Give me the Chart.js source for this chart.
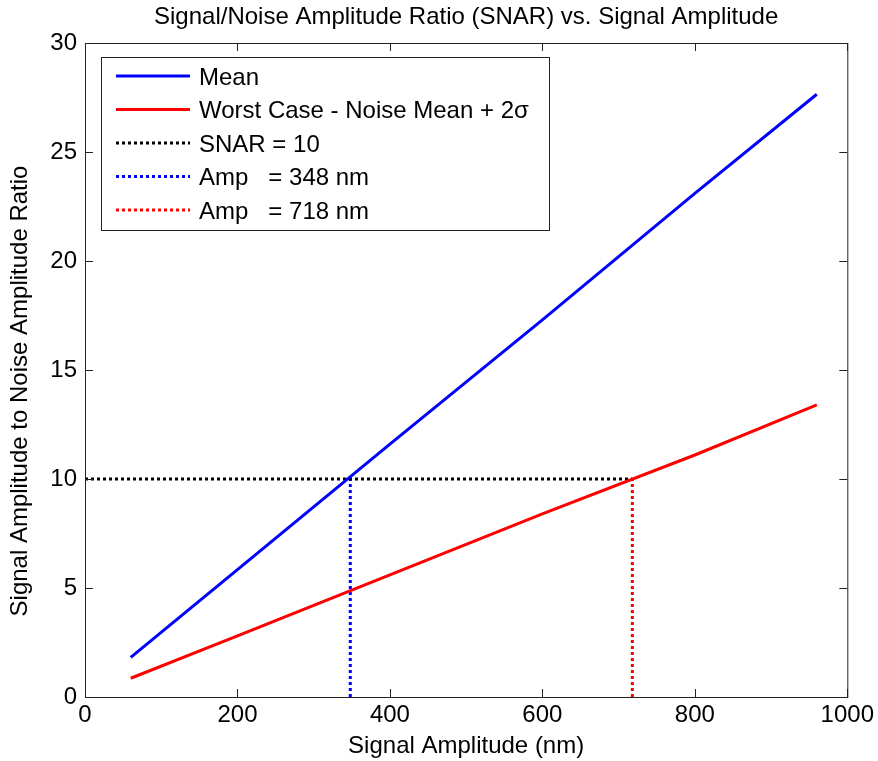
<!DOCTYPE html>
<html>
<head>
<meta charset="utf-8">
<script src="https://cdn.jsdelivr.net/npm/chart.js@4.4.1/dist/chart.umd.min.js"></script>
<style>
  html, body { margin: 0; padding: 0; background: #fff; }
  #wrap { width: 878px; height: 761px; }
</style>
</head>
<body>
<div id="wrap"><canvas id="snar"></canvas></div>
<script>
// signal amplitude samples (nm) and the two ratio curves
const ampX = [60, 200, 400, 600, 800, 960];
const meanRatio = [1.82, 5.84, 11.6, 17.3, 23.1, 27.65];
const worstRatio = [0.86, 2.8, 5.6, 8.4, 11.1, 13.4];

// threshold + crossing amplitudes
const snarLevel = 10;
const ampMean = 348;
const ampWorst = 718;

const xTicks = [0, 200, 400, 600, 800, 1000];
const yTicks = [0, 5, 10, 15, 20, 25, 30];

const FONT = 'Arial, "Liberation Sans", sans-serif';

const pts = (xs, ys) => xs.map((x, i) => ({x: x, y: ys[i]}));

const datasets = [
  {label: 'Mean', data: pts(ampX, meanRatio), borderColor: '#0000ff', borderWidth: 3},
  {label: 'Worst Case - Noise Mean + 2σ', data: pts(ampX, worstRatio), borderColor: '#ff0000', borderWidth: 3},
  {label: 'SNAR = 10', data: [{x: 0, y: snarLevel}, {x: ampWorst, y: snarLevel}], borderColor: '#000000', borderWidth: 3, borderDash: [3, 3]},
  {label: 'Amp   = ' + ampMean + ' nm', data: [{x: ampMean, y: 0}, {x: ampMean, y: snarLevel}], borderColor: '#0000ff', borderWidth: 3, borderDash: [3, 3]},
  {label: 'Amp   = ' + ampWorst + ' nm', data: [{x: ampWorst, y: 0}, {x: ampWorst, y: snarLevel}], borderColor: '#ff0000', borderWidth: 3, borderDash: [3, 3]},
];
datasets.forEach(d => { d.pointRadius = 0; d.fill = false; d.tension = 0; d.showLine = true; });

// matlab-ish box, inward ticks, title and legend
const matlabFrame = {
  id: 'matlabFrame',
  afterDraw(chart) {
    const c = chart.ctx;
    const a = chart.chartArea;
    const xs = chart.scales.x, ys = chart.scales.y;
    c.save();
    c.strokeStyle = '#222';
    c.lineWidth = 1;
    c.strokeRect(a.left + 0.5, a.top + 0.5, a.right - a.left, a.bottom - a.top);
    c.beginPath();
    xTicks.forEach(v => {
      const px = Math.round(xs.getPixelForValue(v)) + 0.5;
      c.moveTo(px, a.bottom); c.lineTo(px, a.bottom - 8);
      c.moveTo(px, a.top); c.lineTo(px, a.top + 8);
    });
    yTicks.forEach(v => {
      const py = Math.round(ys.getPixelForValue(v)) + 0.5;
      c.moveTo(a.left, py); c.lineTo(a.left + 8, py);
      c.moveTo(a.right, py); c.lineTo(a.right - 8, py);
    });
    c.stroke();

    // title
    c.fillStyle = '#000';
    c.font = '24px ' + FONT;
    c.textAlign = 'center';
    c.textBaseline = 'middle';
    c.fillText('Signal/Noise Amplitude Ratio (SNAR) vs. Signal Amplitude', (a.left + a.right) / 2, 17);

    // axis titles
    c.fillText('Signal Amplitude (nm)', (a.left + a.right) / 2, 746);
    c.save();
    c.translate(20, 391);
    c.rotate(-Math.PI / 2);
    c.fillText('Signal Amplitude to Noise Amplitude Ratio', 0, 0);
    c.restore();

    // legend
    const lx = a.left + 16, ly = a.top + 14, lw = 448, lh = 173;
    c.fillStyle = '#fff';
    c.fillRect(lx, ly, lw, lh);
    c.strokeStyle = '#222';
    c.strokeRect(lx + 0.5, ly + 0.5, lw, lh);
    c.textAlign = 'left';
    chart.data.datasets.forEach((d, i) => {
      const y = ly + 19 + i * 33.5;
      c.beginPath();
      c.strokeStyle = d.borderColor;
      c.lineWidth = d.borderWidth;
      c.setLineDash(d.borderDash || []);
      c.moveTo(lx + 15, y); c.lineTo(lx + 89, y);
      c.stroke();
      c.setLineDash([]);
      c.fillStyle = '#000';
      c.fillText(d.label, lx + 98, y + 2);
    });
    c.restore();
  }
};

new Chart(document.getElementById('snar'), {
  type: 'scatter',
  data: {datasets: datasets},
  options: {
    responsive: true,
    maintainAspectRatio: false,
    animation: false,
    layout: {padding: {top: 43, right: 29, left: 0, bottom: 0}},
    plugins: {legend: {display: false}, tooltip: {enabled: false}, title: {display: false}},
    scales: {
      x: {
        type: 'linear', min: 0, max: 1000,
        afterBuildTicks: s => { s.ticks = xTicks.map(v => ({value: v})); },
        afterFit: s => { s.height = 64; },
        grid: {display: false, drawTicks: false, tickLength: 0},
        border: {display: false},
        ticks: {color: '#000', font: {family: FONT, size: 24}, padding: 4, maxRotation: 0, callback: v => String(v)}
      },
      y: {
        type: 'linear', min: 0, max: 30,
        afterBuildTicks: s => { s.ticks = yTicks.map(v => ({value: v})); },
        afterFit: s => { s.width = 85; },
        grid: {display: false, drawTicks: false, tickLength: 0},
        border: {display: false},
        ticks: {color: '#000', font: {family: FONT, size: 24}, padding: 8, callback: v => String(v)}
      }
    }
  },
  plugins: [matlabFrame]
});
</script>
</body>
</html>
